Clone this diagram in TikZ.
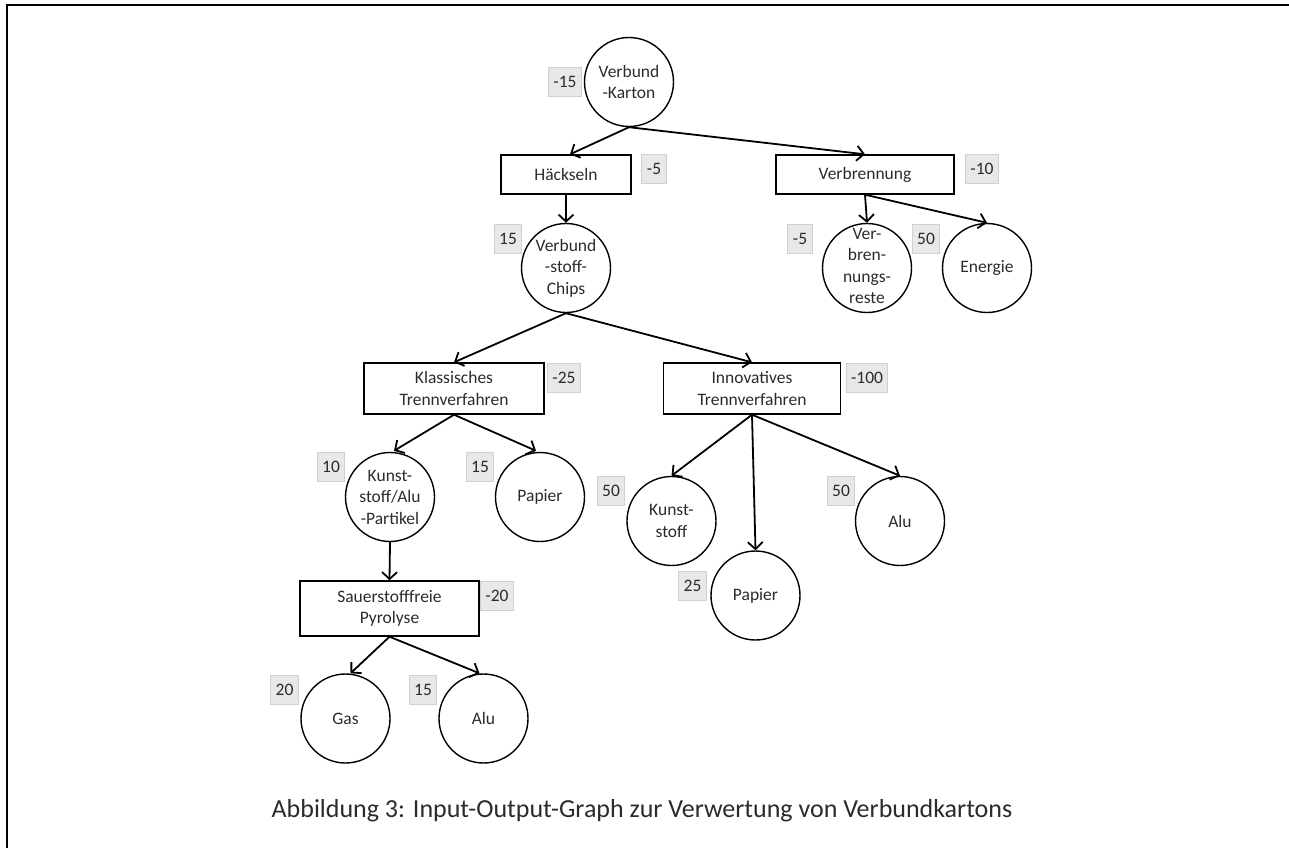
\documentclass[tikz,border=0pt]{standalone}
\usepackage{fontspec}
\setmainfont{Carlito}
\usetikzlibrary{arrows.meta}
\definecolor{txt}{HTML}{2B2B2B}
\definecolor{valfill}{HTML}{E8E8E8}
\definecolor{valdraw}{HTML}{D0D0D0}
\begin{document}
\begin{tikzpicture}[x=1pt,y=-1pt,
  every node/.style={font=\fontsize{17.5}{21.5}\selectfont, text=txt},
  proc/.style={draw=black, line width=1.4pt, align=center, inner sep=0pt},
  circ/.style={draw=black, circle, line width=1.4pt, minimum size=89pt, inner sep=0pt},
  ctext/.style={align=center, inner sep=0pt},
  val/.style={fill=valfill, draw=valdraw, line width=1pt, minimum height=29pt, inner xsep=5pt, inner ysep=0pt},
  arr/.style={line width=1.8pt, -{Straight Barb[length=7pt,width=15pt,line width=1.8pt]}}
]
\useasboundingbox (0,0) rectangle (1289,848);
% frame
\coordinate (ftl) at (7,5);
\coordinate (ftr) at (1289,5);
\coordinate (fbl) at (7,848);
\draw[line width=2pt] (fbl) -- (ftl) -- (ftr);

% nodes
\node[circ] (karton) at (629,82) {};
\node[ctext] (kartonT) at (karton.center) {Verbund\\-Karton};
\node[val] (vkarton) at (565,82) {-15};

\node[proc, minimum width=130pt, minimum height=39pt] (haeck) at (566,174.5) {Häckseln};
\node[val] (vhaeck) at (654,169) {-5};

\node[proc, minimum width=178pt, minimum height=39pt] (verbr) at (865,174.5) {Verbrennung};
\node[val] (vverbr) at (982,169) {-10};

\node[circ] (chips) at (566,268) {};
\node[ctext] (chipsT) at (chips.center) {Verbund\\-stoff-\\Chips};
\node[val] (vchips) at (508,239) {15};

\node[circ] (reste) at (867,268) {};
\node[ctext] (resteT) at ([yshift=2pt]reste.center) {Ver-\\bren-\\nungs-\\reste};
\node[val] (vreste) at (800,239) {-5};

\node[circ] (energie) at (987,268) {};
\node[ctext] (energieT) at (energie.center) {Energie};
\node[val] (venergie) at (926,239) {50};

\node[proc, minimum width=180pt, minimum height=51pt] (klass) at (454,388.5) {Klassisches\\Trennverfahren};
\node[val] (vklass) at (564,378) {-25};

\node[proc, minimum width=177pt, minimum height=51pt] (innov) at (752,388.5) {Innovatives\\Trennverfahren};
\node[val] (vinnov) at (867,378) {-100};

\node[circ] (kap) at (390,497) {};
\node[ctext] (kapT) at (kap.center) {Kunst-\\stoff/Alu\\-Partikel};
\node[val] (vkap) at (331,467) {10};

\node[circ] (papk) at (540,497) {};
\node[ctext] (papkT) at (papk.center) {Papier};
\node[val] (vpapk) at (480,467) {15};

\node[proc, minimum width=179pt, minimum height=55pt] (pyro) at (389.5,608.5) {Sauerstofffreie\\Pyrolyse};
\node[val] (vpyro) at (497,595.5) {-20};

\node[circ] (gas) at (345.5,718.5) {};
\node[ctext] (gasT) at (gas.center) {Gas};
\node[val] (vgas) at (284.5,689.5) {20};

\node[circ] (alup) at (483.5,718.5) {};
\node[ctext] (alupT) at (alup.center) {Alu};
\node[val] (valup) at (423,689.5) {15};

\node[circ] (kunst) at (671.5,521) {};
\node[ctext] (kunstT) at (kunst.center) {Kunst-\\stoff};
\node[val] (vkunst) at (611,491) {50};

\node[circ] (papi) at (755.5,595.5) {};
\node[ctext] (papiT) at (papi.center) {Papier};
\node[val] (vpapi) at (692.5,585.5) {25};

\node[circ] (alui) at (900,521) {};
\node[ctext] (aluiT) at (alui.center) {Alu};
\node[val] (valui) at (841,491) {50};

\node[font=\fontsize{26}{30}\selectfont] (caption) at (642,811) {Abbildung 3: Input-Output-Graph zur Verwertung von Verbundkartons};

% connectors
\draw[arr] (karton.south) -- ([xshift=4pt]haeck.north);
\draw[arr] (karton.south) -- (verbr.north);
\draw[arr] (haeck.south) -- (chips.north);
\draw[arr] (verbr.south) -- (reste.north);
\draw[arr] (verbr.south) -- (energie.north);
\draw[arr] (chips.south) -- (klass.north);
\draw[arr] (chips.south) -- (innov.north);
\draw[arr] (klass.south) -- ([xshift=4pt,yshift=1pt]kap.north);
\draw[arr] (klass.south) -- ([xshift=-4pt,yshift=1pt]papk.north);
\draw[arr] (kap.south) -- (pyro.north);
\draw[arr] (pyro.south) -- ([xshift=5pt]gas.north);
\draw[arr] (pyro.south) -- ([xshift=-4pt]alup.north);
\draw[arr] (innov.south) -- (kunst.north);
\draw[arr] (innov.south) -- (papi.north);
\draw[arr] (innov.south) -- (alui.north);
\end{tikzpicture}
\end{document}
